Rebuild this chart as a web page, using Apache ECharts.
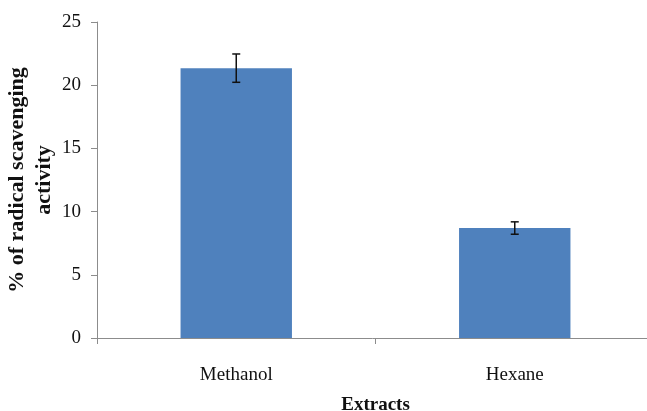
<!DOCTYPE html>
<html>
<head>
<meta charset="utf-8">
<script src="https://cdn.jsdelivr.net/npm/echarts@6/dist/echarts.min.js"></script>
<style>html,body{margin:0;padding:0;background:#fff}#c{width:647px;height:411px}</style>
</head>
<body>
<div id="c"></div>
<script>
var categories = ['Methanol', 'Hexane'];
var values = [21.35, 8.7];
var errors = [1.12, 0.49];
var yTicks = [0, 5, 10, 15, 20, 25];

var chart = echarts.init(document.getElementById('c'));
var font = '"Liberation Serif", "Times New Roman", serif';
chart.setOption({
  animation: false,
  backgroundColor: '#fff',
  grid: { left: 97, right: -7, top: 22, bottom: 73, outerBoundsMode: 'none' },
  xAxis: {
    type: 'category',
    data: categories,
    name: 'Extracts',
    nameLocation: 'middle',
    nameGap: 58,
    nameMoveOverlap: false,
    nameTextStyle: { fontFamily: font, fontSize: 19, fontWeight: 'bold', color: '#111' },
    axisLine: { lineStyle: { color: '#8c8c8c', width: 1 } },
    axisTick: { show: true, length: 6, lineStyle: { color: '#8c8c8c' } },
    axisLabel: { fontFamily: font, fontSize: 19, color: '#111', margin: 28 }
  },
  yAxis: {
    type: 'value',
    min: yTicks[0],
    max: yTicks[yTicks.length - 1],
    interval: 5,
    name: '% of radical scavenging\nactivity',
    nameLocation: 'middle',
    nameRotate: 90,
    nameGap: 39,
    nameMoveOverlap: false,
    nameTextStyle: { fontFamily: font, fontSize: 22, fontWeight: 'bold', color: '#111', lineHeight: 27 },
    axisLine: { show: true, lineStyle: { color: '#8c8c8c', width: 1 } },
    axisTick: { show: true, length: 6, lineStyle: { color: '#8c8c8c' } },
    splitLine: { show: false },
    axisLabel: { fontFamily: font, fontSize: 19, color: '#111', margin: 16 }
  },
  series: [
    {
      type: 'bar',
      data: values,
      barWidth: '40%',
      itemStyle: { color: '#4F81BD' }
    },
    {
      type: 'custom',
      data: values.map(function (v, i) { return [i, v - errors[i], v + errors[i]]; }),
      renderItem: function (params, api) {
        var lo = api.coord([api.value(0), api.value(1)]);
        var hi = api.coord([api.value(0), api.value(2)]);
        var w = 4;
        var st = { stroke: '#111', lineWidth: 1.5 };
        return {
          type: 'group',
          children: [
            { type: 'line', shape: { x1: hi[0], y1: hi[1], x2: lo[0], y2: lo[1] }, style: st },
            { type: 'line', shape: { x1: hi[0] - w, y1: hi[1], x2: hi[0] + w, y2: hi[1] }, style: st },
            { type: 'line', shape: { x1: lo[0] - w, y1: lo[1], x2: lo[0] + w, y2: lo[1] }, style: st }
          ]
        };
      },
      z: 5
    }
  ]
});
</script>
</body>
</html>
